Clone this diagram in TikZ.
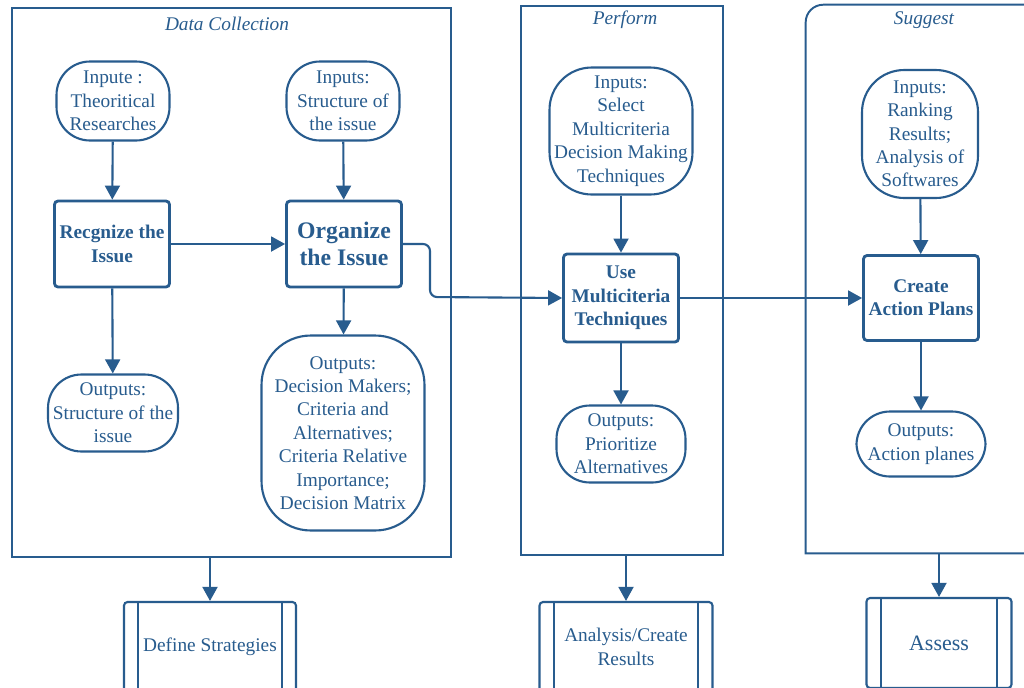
\documentclass[tikz,border=0pt]{standalone}
\usepackage{fontspec}
\setmainfont{Liberation Serif}
\usepackage{tikz}
\usetikzlibrary{arrows.meta}
\definecolor{flowblue}{RGB}{40,92,142}

\tikzset{
  panel/.style={draw=flowblue, line width=1.1pt},
  paneltitle/.style={text=flowblue, font=\fontsize{11}{13}\selectfont\itshape},
  blob/.style={draw=flowblue, line width=1.2pt, rounded corners=19pt, fill=white,
    text=flowblue, align=center, inner sep=0pt, font=\fontsize{11}{13.3}\selectfont},
  task/.style={draw=flowblue, line width=1.6pt, rounded corners=2pt, fill=white,
    text=flowblue, align=center, inner sep=0pt, font=\fontsize{11}{13.3}\selectfont\bfseries},
  subproc/.style={draw=flowblue, line width=1.2pt, rounded corners=2pt, fill=white,
    text=flowblue, align=center, inner sep=0pt, font=\fontsize{11}{13.3}\selectfont,
    path picture={
      \draw[flowblue, line width=1.2pt]
        ([xshift=8pt]path picture bounding box.north west) -- ([xshift=8pt]path picture bounding box.south west)
        ([xshift=-8pt]path picture bounding box.north east) -- ([xshift=-8pt]path picture bounding box.south east);
    }},
  flow/.style={draw=flowblue, line width=1.2pt, ->},
}

\begin{document}
\begin{tikzpicture}[x=0.02cm, y=-0.02cm, >={Triangle[length=8pt,width=8.5pt]}]
  \fill[white] (0,0) rectangle (1024,687);
  \useasboundingbox (0,0) rectangle (1024,687);

  % panels
  \node[panel, minimum width=8.78cm, minimum height=10.98cm] (collect) at (231.5,282.5) {};
  \node[panel, minimum width=4.04cm, minimum height=10.98cm] (perform) at (622,280.5) {};
  \node[minimum width=5.08cm, minimum height=10.96cm] (suggest) at (933,279) {};
  \draw[panel] (suggest.south east) -- (suggest.south west)
    {[rounded corners=10pt] -- (suggest.north west) -- (suggest.north east)};
  \node[paneltitle] (collecttitle) at (227,24) {Data Collection};
  \node[paneltitle] (performtitle) at (625,20) {Perform};
  \node[paneltitle] (suggesttitle) at (924,20) {Suggest};

  % data collection
  \node[blob, minimum width=2.26cm, minimum height=1.58cm] (inA) at (113,101)
    {Inpute :\\ Theoritical\\ Researches};
  \node[blob, minimum width=2.26cm, minimum height=1.58cm] (inB) at (343,101)
    {Inputs:\\ Structure of\\ the issue};
  \node[task, minimum width=2.3cm, minimum height=1.72cm] (recognize) at (112,244)
    {Recgnize the\\ Issue};
  \node[task, minimum width=2.3cm, minimum height=1.72cm,
    font=\fontsize{13.5}{15.5}\selectfont\bfseries] (organize) at (344,244)
    {Organize\\ the Issue};
  \node[blob, minimum width=2.6cm, minimum height=1.54cm] (outA) at (113,413)
    {Outputs:\\ Structure of the\\ issue};
  \node[blob, rounded corners=28pt, minimum width=3.26cm, minimum height=3.9cm] (outB) at (343,433)
    {Outputs:\\ Decision Makers;\\ Criteria and\\ Alternatives;\\ Criteria Relative\\ Importance;\\ Decision Matrix};

  % perform
  \node[blob, rounded corners=24pt, minimum width=2.86cm, minimum height=2.54cm] (inC) at (621,131)
    {Inputs:\\ Select\\ Multicriteria\\ Decision Making\\ Techniques};
  \node[task, minimum width=2.3cm, minimum height=1.76cm] (use) at (621,298)
    {Use\\ Multiciteria\\ Techniques};
  \node[blob, minimum width=2.58cm, minimum height=1.54cm] (outC) at (621,444)
    {Outputs:\\ Prioritize\\ Alternatives};

  % suggest
  \node[blob, rounded corners=24pt, minimum width=2.32cm, minimum height=2.56cm] (inD) at (920,134)
    {Inputs:\\ Ranking\\ Results;\\ Analysis of\\ Softwares};
  \node[task, minimum width=2.3cm, minimum height=1.7cm] (create) at (921,298)
    {Create\\ Action Plans};
  \node[blob, minimum width=2.58cm, minimum height=1.3cm] (outD) at (921,444)
    {Outputs:\\ Action planes};

  % bottom row
  \node[subproc, minimum width=3.44cm, minimum height=1.8cm] (strategies) at (210,647)
    {Define Strategies};
  \node[subproc, minimum width=3.46cm, minimum height=1.8cm] (results) at (626,647)
    {Analysis/Create\\ Results};
  \node[subproc, minimum width=2.9cm, minimum height=1.8cm,
    font=\fontsize{12.5}{15}\selectfont] (assess) at (939,643)
    {Assess};

  % connectors
  \draw[flow] (inA) -- (recognize);
  \draw[flow] (inB) -- (organize);
  \draw[flow] (recognize) -- (outA);
  \draw[flow] (organize) -- (outB);
  \draw[flow] (recognize) -- (organize);
  \coordinate (turn) at (430,297);
  \draw[flow, rounded corners=4pt] (organize.east) -| (turn) -- (use.west);
  \draw[flow] (inC) -- (use);
  \draw[flow] (use) -- (outC);
  \draw[flow] (use) -- (create);
  \draw[flow] (inD) -- (create);
  \draw[flow] (create) -- (outD);
  \draw[flow] (collect.south -| strategies.north) -- (strategies);
  \draw[flow] (perform.south -| results.north) -- (results);
  \draw[flow] (suggest.south -| assess.north) -- (assess);
\end{tikzpicture}
\end{document}
